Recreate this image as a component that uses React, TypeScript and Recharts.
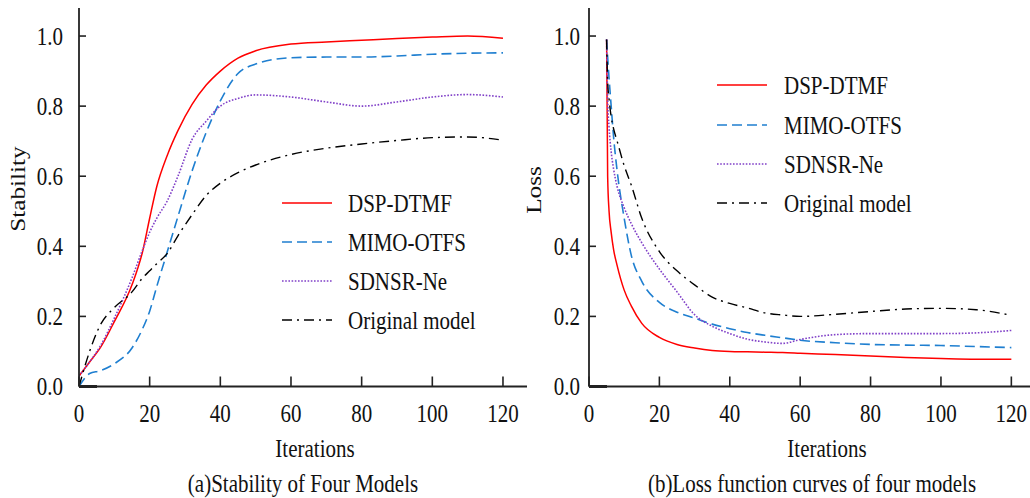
import React from 'react';
import { LineChart, Line, XAxis, YAxis, Legend, Label } from 'recharts';

const FONT = '"Liberation Serif", "Times New Roman", serif';
const SY = 1.2;

// ---- shared ----
const xTicks = [0, 20, 40, 60, 80, 100, 120];
const yTicks = [0, 0.2, 0.4, 0.6, 0.8, 1.0];
const seriesNames = ['DSP-DTMF', 'MIMO-OTFS', 'SDNSR-Ne', 'Original model'];
const seriesColors = ['#ff0000', '#1f7fd0', '#8040c8', '#000000'];
const seriesDash = ['', '10 5', '1.6 1.6', '10 5 2 5'];
const seriesWidth = [1.5, 1.6, 1.6, 1.4];

// ---- (a) stability ----
const stabIter = [0, 3, 6, 10, 15, 18, 20, 22, 25, 28, 32, 36, 40, 45, 50, 60, 70, 80, 90, 100, 110, 120];
const stabDsp = [0.03, 0.07, 0.11, 0.185, 0.29, 0.385, 0.48, 0.57, 0.66, 0.73, 0.805, 0.86, 0.9, 0.937, 0.958, 0.977, 0.983, 0.988, 0.993, 0.997, 1.0, 0.994];
const stabMimo = [0.0, 0.037, 0.045, 0.065, 0.11, 0.165, 0.215, 0.285, 0.385, 0.485, 0.615, 0.725, 0.815, 0.893, 0.92, 0.938, 0.94, 0.94, 0.943, 0.948, 0.951, 0.952];
const stabSdnsr = [0.03, 0.07, 0.115, 0.195, 0.31, 0.39, 0.44, 0.48, 0.53, 0.6, 0.705, 0.757, 0.8, 0.822, 0.832, 0.826, 0.812, 0.8, 0.812, 0.826, 0.833, 0.826];
const stabOrig = [0.0, 0.1, 0.175, 0.225, 0.27, 0.31, 0.33, 0.35, 0.38, 0.43, 0.49, 0.545, 0.58, 0.61, 0.632, 0.662, 0.68, 0.692, 0.702, 0.71, 0.712, 0.703];

// ---- (b) loss ----
const lossIter = [5, 5.3, 5.7, 6.3, 7, 8, 10, 12, 15, 20, 25, 30, 35, 40, 45, 50, 55, 60, 70, 80, 90, 100, 110, 120];
const lossDsp = [0.99, 0.6, 0.5, 0.44, 0.39, 0.345, 0.275, 0.23, 0.18, 0.14, 0.12, 0.11, 0.103, 0.1, 0.099, 0.098, 0.097, 0.095, 0.091, 0.087, 0.083, 0.08, 0.078, 0.078];
const lossMimo = [0.99, 0.94, 0.88, 0.8, 0.71, 0.615, 0.48, 0.375, 0.3, 0.24, 0.212, 0.195, 0.178, 0.165, 0.154, 0.146, 0.139, 0.132, 0.125, 0.12, 0.118, 0.117, 0.114, 0.111];
const lossSdnsr = [0.99, 0.82, 0.74, 0.67, 0.62, 0.57, 0.51, 0.465, 0.41, 0.335, 0.27, 0.205, 0.172, 0.151, 0.135, 0.127, 0.123, 0.134, 0.148, 0.151, 0.151, 0.151, 0.153, 0.16];
const lossOrig = [0.99, 0.87, 0.82, 0.77, 0.735, 0.7, 0.63, 0.575, 0.48, 0.385, 0.33, 0.29, 0.255, 0.237, 0.224, 0.21, 0.204, 0.2, 0.206, 0.214, 0.221, 0.223, 0.219, 0.203];

const build = (iter: number[], a: number[], b: number[], c: number[], d: number[]) =>
  iter.map((it, i) => ({ it, s0: a[i], s1: b[i], s2: c[i], s3: d[i] }));

const stabData = build(stabIter, stabDsp, stabMimo, stabSdnsr, stabOrig);
const lossData = build(lossIter, lossDsp, lossMimo, lossSdnsr, lossOrig);

function T({ x, y, anchor = 'middle', rotate = false, children }: any) {
  return (
    <text
      transform={`translate(${x},${y}) scale(1,${SY})${rotate ? ' rotate(-90)' : ''}`}
      textAnchor={anchor}
      dominantBaseline="central"
      fontFamily={FONT}
      fontSize={21}
      fill="#111"
    >
      {children}
    </text>
  );
}

const AXIS_Y = 386.5;
const AXIS_COLOR = '#222';

type PanelProps = {
  data: any[];
  width: number;
  axisX: number;
  xMax: number;
  yLabelRight: number;
  yTitle: string;
  yTitlePos: [number, number];
  xTitlePos: [number, number];
  caption: string;
  captionPos: [number, number];
  legendLeft: number;
  legendTop: number;
  legendRows: number[];
  legendTextX: number;
};

function Panel(p: PanelProps) {
  const renderYTick = (props: any) => {
    const y = props.y;
    const v = Number(props.payload.value);
    return (
      <g>
        {v === 0 ? (
          <line x1={p.axisX} x2={p.axisX + 18} y1={y} y2={y} stroke={AXIS_COLOR} strokeWidth={3} />
        ) : (
          <line x1={p.axisX} x2={p.axisX + 7} y1={y} y2={y} stroke={AXIS_COLOR} strokeWidth={1.6} />
        )}
        <T x={p.yLabelRight} y={y} anchor="end">{v.toFixed(1)}</T>
      </g>
    );
  };
  const renderXTick = (props: any) => {
    const x = props.x;
    const v = props.payload.value;
    return (
      <g>
        <line x1={x} x2={x} y1={AXIS_Y} y2={AXIS_Y - 10} stroke={AXIS_COLOR} strokeWidth={1.6} />
        <T x={x} y={413.5}>{String(v)}</T>
      </g>
    );
  };
  const titles = () => (
    <g>
      <T x={p.xTitlePos[0]} y={p.xTitlePos[1]}>Iterations</T>
      <T x={p.captionPos[0]} y={p.captionPos[1]}>{p.caption}</T>
      <T x={p.yTitlePos[0]} y={p.yTitlePos[1]} rotate>{p.yTitle}</T>
    </g>
  );
  const legendContent = () => (
    <svg width={240} height={160} style={{ overflow: 'visible', display: 'block' }}>
      {seriesNames.map((n, i) => (
        <g key={n}>
          <line
            x1={12}
            x2={62}
            y1={p.legendRows[i]}
            y2={p.legendRows[i]}
            stroke={seriesColors[i]}
            strokeWidth={seriesWidth[i]}
            strokeDasharray={seriesDash[i] || undefined}
          />
          <T x={p.legendTextX} y={p.legendRows[i]} anchor="start">{n}</T>
        </g>
      ))}
    </svg>
  );
  return (
    <LineChart
      width={p.width}
      height={498}
      data={p.data}
      margin={{ top: 8, right: 0, left: 0, bottom: 81.5 }}
    >
      <XAxis
        dataKey="it"
        type="number"
        domain={[0, p.xMax]}
        ticks={xTicks}
        interval={0}
        height={30}
        tickLine={false}
        tickSize={0}
        tickMargin={0}
        axisLine={{ stroke: AXIS_COLOR, strokeWidth: 1.8 }}
        tick={renderXTick}
        allowDataOverflow
      >
        <Label content={titles} />
      </XAxis>
      <YAxis
        type="number"
        domain={[0, 1.08]}
        ticks={yTicks}
        interval={0}
        width={p.axisX}
        tickLine={false}
        tickSize={0}
        tickMargin={0}
        axisLine={{ stroke: AXIS_COLOR, strokeWidth: 1.8 }}
        tick={renderYTick}
        allowDataOverflow
      />
      <Legend
        layout="vertical"
        align="center"
        verticalAlign="middle"
        content={legendContent}
        wrapperStyle={{ position: 'absolute', left: p.legendLeft, top: p.legendTop, width: 240, height: 160 }}
      />
      {seriesNames.map((n, i) => (
        <Line
          key={n}
          name={n}
          dataKey={`s${i}`}
          type="monotone"
          stroke={seriesColors[i]}
          strokeWidth={seriesWidth[i]}
          strokeDasharray={seriesDash[i] || undefined}
          dot={false}
          activeDot={false}
          isAnimationActive={false}
        />
      ))}
    </LineChart>
  );
}

export default function App() {
  return (
    <div style={{ position: 'absolute', left: 0, top: 0, width: 1030, height: 498, background: '#fff' }}>
      <div style={{ position: 'absolute', left: 0, top: 0 }}>
        <Panel
          data={stabData}
          width={527}
          axisX={79}
          xMax={126.8}
          yLabelRight={63}
          yTitle="Stability"
          yTitlePos={[18, 189]}
          xTitlePos={[315, 448]}
          caption="(a)Stability of Four Models"
          captionPos={[303, 483]}
          legendLeft={270}
          legendTop={180}
          legendRows={[23, 62, 101, 140]}
          legendTextX={78}
        />
      </div>
      <div style={{ position: 'absolute', left: 520, top: 0 }}>
        <Panel
          data={lossData}
          width={510}
          axisX={69}
          xMax={125.3}
          yLabelRight={60}
          yTitle="Loss"
          yTitlePos={[14, 190]}
          xTitlePos={[307, 448]}
          caption="(b)Loss function curves of four models"
          captionPos={[292, 483]}
          legendLeft={185}
          legendTop={62}
          legendRows={[23, 63, 102, 141]}
          legendTextX={79}
        />
      </div>
    </div>
  );
}
